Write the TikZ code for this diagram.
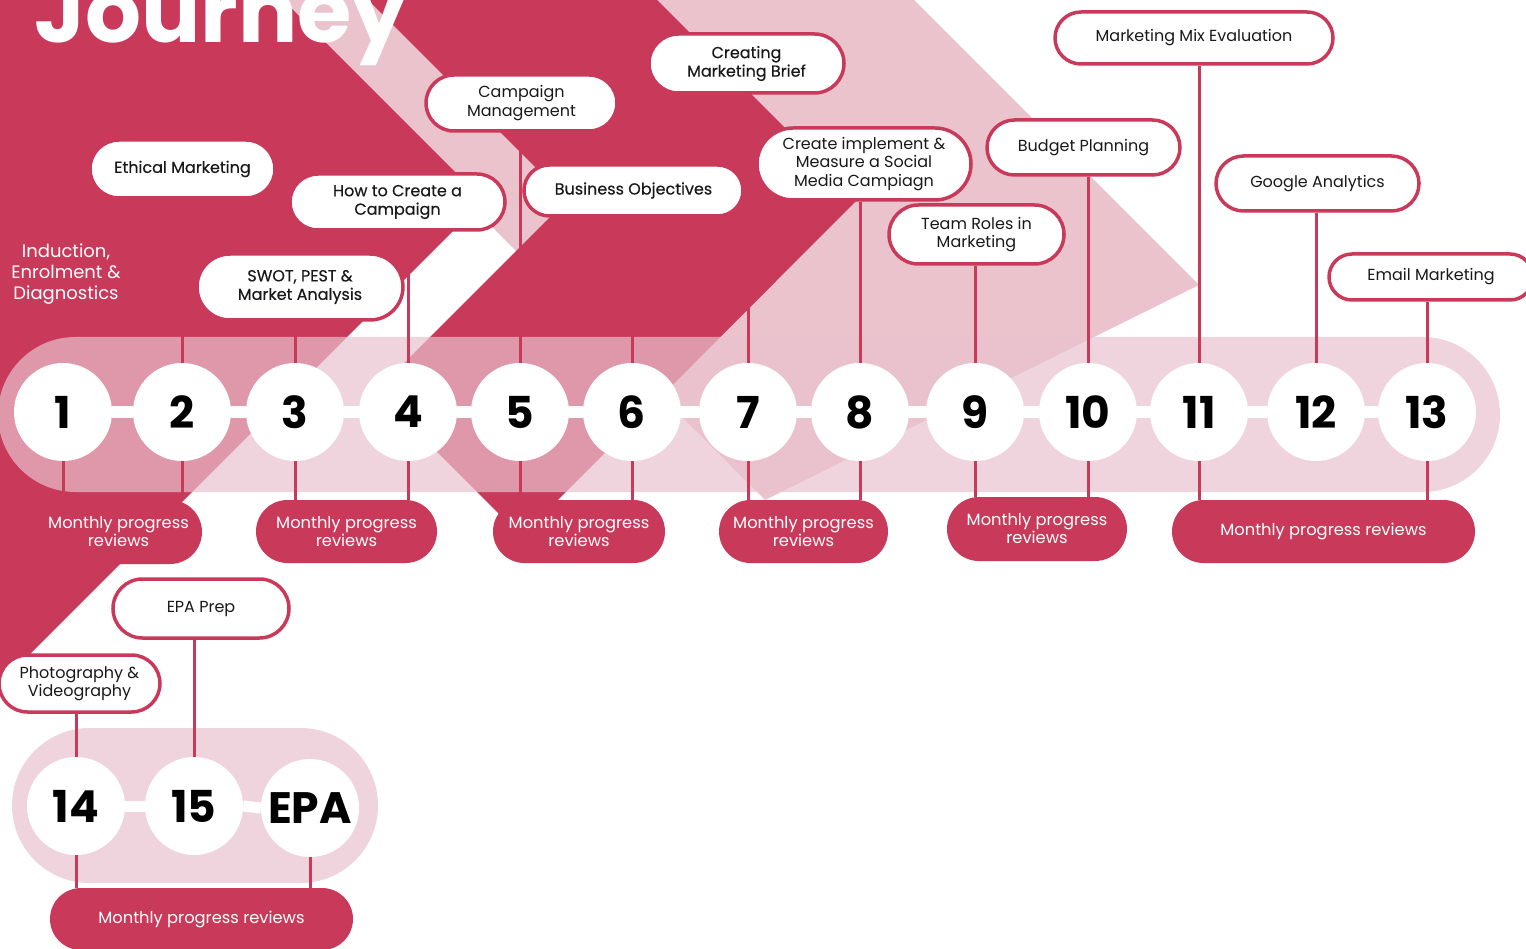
\documentclass[tikz,border=0pt]{standalone}
\usepackage{fontspec}
\setmainfont{Poppins}
\newfontfamily\popmed{Poppins}[FakeBold=0.35]
\usetikzlibrary{shapes.misc}
\definecolor{crim}{HTML}{C93A5A}
\definecolor{pinkbg}{HTML}{EBC3CD}
\definecolor{bandc}{HTML}{E9C2CE}
\tikzset{
 topic/.style={rounded rectangle, draw=crim, line width=3.5pt, fill=white, inner sep=0pt, align=center, text=black!90, font=\fontsize{16}{18.5}\selectfont},
 topicm/.style={topic, font=\popmed\fontsize{16}{18.5}\selectfont},
 num/.style={circle, fill=white, minimum size=98pt, inner sep=0pt, text=black, font=\bfseries\fontsize{44}{44}\selectfont},
 review/.style={rounded rectangle, fill=crim, inner sep=0pt, align=center, text=white, font=\fontsize{16.3}{18}\selectfont},
 conn/.style={crim, line width=3pt},
 bar/.style={white, line width=11pt},
 band/.style={fill=bandc, fill opacity=0.69, rounded corners=77.5pt},
}
\begin{document}
\begin{tikzpicture}[x=1pt,y=-1pt]
\useasboundingbox (0,0) rectangle (1526,949);
\fill[white] (0,0) rectangle (1526,949);
% background chevrons
\fill[pinkbg] (265,0) -- (914,0) -- (1199,285) -- (765,500) -- cycle;
\fill[crim] (0,0) -- (283,0) -- (483.5,200.5) -- (0,684) -- cycle;
\fill[crim] (368,0) -- (657,0) -- (857,200) -- (521.5,536.5) -- (376,391) -- (567.5,199.5) -- cycle;
% bands
\fill[band] (-2,337) rectangle (1500,492);
\fill[band] (12,728) rectangle (378,883);
% title and intro
\node[anchor=base west, text=white, font=\bfseries\fontsize{88}{88}\selectfont, inner sep=0pt] (title) at (34,43) {Journey};
\node[text=white, align=center, font=\fontsize{18}{21}\selectfont, inner sep=0pt] (intro) at (66,274) {Induction,\\Enrolment \&\\Diagnostics};
% circles
\foreach \n/\x in {1/63,2/182,3/295,4/408,5/520,6/632,7/748,8/860,9/975,10/1088,11/1199,12/1316,13/1427}
  \node[num] (c\n) at (\x,412) {\n};
\node[num] (c14) at (76,806) {14};
\node[num] (c15) at (194,806) {15};
\node[num] (cepa) at (310,808) {EPA};
\foreach \a/\b in {1/2,2/3,3/4,4/5,5/6,6/7,7/8,8/9,9/10,10/11,11/12,12/13,14/15,15/epa}
  \draw[bar] (c\a.east) -- (c\b.west);
% topic boxes
\node[topicm, minimum width=185, minimum height=58] (ethical) at (182.5,169) {Ethical Marketing};
\node[topicm, minimum width=215, minimum height=56] (howto) at (397.5,202) {How to Create a\\Campaign};
\node[topicm, minimum width=206, minimum height=66] (swot) at (300,287) {SWOT, PEST \&\\Market Analysis};
\node[topic, minimum width=191, minimum height=56] (campmgmt) at (521.5,103) {Campaign\\Management};
\node[topicm, minimum width=219, minimum height=51] (busobj) at (633.5,190.5) {Business Objectives};
\node[topicm, minimum width=195, minimum height=59] (brief) at (746.5,63.5) {Creating\\Marketing Brief};
\node[topic, minimum width=214, minimum height=72] (social) at (864,164) {Create implement \&\\Measure a Social\\Media Campiagn};
\node[topic, minimum width=175, minimum height=59] (team) at (976.5,234.5) {Team Roles in\\Marketing};
\node[topic, minimum width=193, minimum height=55] (budget) at (1083.5,147.5) {Budget Planning};
\node[topic, minimum width=278, minimum height=52] (mix) at (1194,38) {Marketing Mix Evaluation};
\node[topic, minimum width=203, minimum height=55] (google) at (1317.5,183.5) {Google Analytics};
\node[topic, minimum width=204, minimum height=46] (email) at (1431,277) {Email Marketing};
\node[topic, minimum width=176, minimum height=59] (epaprep) at (201,608.5) {EPA Prep};
\node[topic, minimum width=161, minimum height=57] (photo) at (79.5,683.5) {Photography \&\\Videography};
% review pills
\node[review, minimum width=167, minimum height=64] (r1) at (118.5,532) {Monthly progress\\reviews};
\node[review, minimum width=181, minimum height=63] (r2) at (346.5,531.5) {Monthly progress\\reviews};
\node[review, minimum width=172, minimum height=63] (r3) at (579,531.5) {Monthly progress\\reviews};
\node[review, minimum width=169, minimum height=63] (r4) at (803.5,531.5) {Monthly progress\\reviews};
\node[review, minimum width=180, minimum height=64] (r5) at (1037,529) {Monthly progress\\reviews};
\node[review, minimum width=303, minimum height=63] (r6) at (1323.5,531.5) {Monthly progress reviews};
\node[review, minimum width=303, minimum height=62] (r7) at (201.5,919) {Monthly progress reviews};
% connectors up
\foreach \c/\b in {c2/ethical,c3/swot,c4/howto,c5/campmgmt,c6/busobj,c7/brief,c8/social,c9/team,c10/budget,c11/mix,c12/google,c13/email,c14/photo,c15/epaprep}
  \draw[conn] (\c.north) -- (\c.north |- \b.south);
% connectors down
\foreach \c/\r in {c1/r1,c2/r1,c3/r2,c4/r2,c5/r3,c6/r3,c7/r4,c8/r4,c9/r5,c10/r5,c11/r6,c13/r6,c14/r7,cepa/r7}
  \draw[conn] (\c.south) -- (\c.south |- \r.north);
\end{tikzpicture}
\end{document}
